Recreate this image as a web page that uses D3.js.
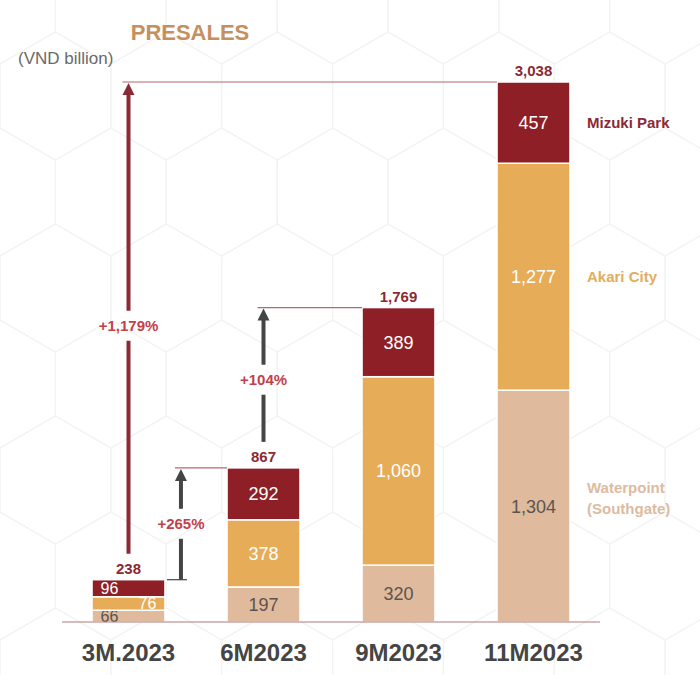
<!DOCTYPE html>
<html>
<head>
<meta charset="utf-8">
<script src="https://cdn.jsdelivr.net/npm/d3@7"></script>
<style>
  body { margin: 0; background: #fff; }
  svg { display: block; font-family: "Liberation Sans", Arial, sans-serif; }
</style>
</head>
<body>
<div id="chart"></div>
<script>
// chart data
var periods = ["3M.2023", "6M2023", "9M2023", "11M2023"];
var waterpoint = [66, 197, 320, 1304];
var akari = [76, 378, 1060, 1277];
var mizuki = [96, 292, 389, 457];
var totals = [238, 867, 1769, 3038];
var seriesNames = ["Waterpoint (Southgate)", "Akari City", "Mizuki Park"];
var growthFrom = [0, 0, 1];
var growthTo = [3, 1, 2];
var growthLabels = ["+1,179%", "+265%", "+104%"];

var W = 700, H = 675;
var colors = ["#dfba9c", "#e6ac57", "#8e1f27"];
var darkRed = "#8b2a35";

var svg = d3.select("#chart").append("svg")
    .attr("width", W)
    .attr("height", H);

// faint hexagon pattern in the background
var hexR = 64;
var hexG = svg.append("g").attr("stroke", "#f3f3f3").attr("fill", "none").attr("stroke-width", 1.2);
for (var row = -1; row < 8; row++) {
    for (var col = -1; col < 8; col++) {
        var cx = col * hexR * Math.sqrt(3) + (row % 2 ? hexR * Math.sqrt(3) / 2 : 0);
        var cy = row * hexR * 1.5;
        var pts = d3.range(6).map(function (k) {
            var a = Math.PI / 3 * k + Math.PI / 6;
            return [cx + hexR * Math.cos(a), cy + hexR * Math.sin(a)];
        });
        hexG.append("polygon").attr("points", pts.join(" "));
    }
}

// scales
var x = d3.scaleBand()
    .domain(periods)
    .range([61, 601])
    .paddingInner(0.46)
    .paddingOuter(0.23);

var y = d3.scaleLinear()
    .domain([0, 3038])
    .range([622, 82]);

// stacked layout
var rows = periods.map(function (p, i) {
    return { period: p, w: waterpoint[i], a: akari[i], m: mizuki[i] };
});
var stack = d3.stack().keys(["w", "a", "m"]);
var layers = stack(rows);

svg.append("clipPath").attr("id", "plot-clip")
    .append("rect").attr("x", 0).attr("y", 0).attr("width", W).attr("height", y(0));

var barG = svg.append("g").attr("clip-path", "url(#plot-clip)");

layers.forEach(function (layer, li) {
    barG.selectAll(".seg" + li)
        .data(layer)
        .enter().append("rect")
        .attr("x", function (d) { return x(d.data.period); })
        .attr("y", function (d) { return y(d[1]); })
        .attr("width", x.bandwidth())
        .attr("height", function (d) { return y(d[0]) - y(d[1]); })
        .attr("fill", colors[li])
        .attr("stroke", "#fff")
        .attr("stroke-width", 1.5);

    barG.selectAll(".lbl" + li)
        .data(layer)
        .enter().append("text")
        .attr("x", function (d, i) {
            var c = x(d.data.period) + x.bandwidth() / 2;
            // the small first bar has its labels pushed to the sides
            if (i == 0) c += (li == 1 ? 19 : -19);
            return c;
        })
        .attr("y", function (d) { return (y(d[0]) + y(d[1])) / 2; })
        .attr("dy", "0.36em")
        .attr("text-anchor", "middle")
        .attr("font-size", function (d, i) { return i == 0 ? 16 : 18; })
        .attr("fill", li == 0 ? "#5b5450" : "#fff")
        .text(function (d) { return d3.format(",")(d[1] - d[0]); });
});

// total labels
svg.selectAll(".total")
    .data(totals)
    .enter().append("text")
    .attr("x", function (d, i) { return x(periods[i]) + x.bandwidth() / 2; })
    .attr("y", function (d) { return y(d) - 6; })
    .attr("text-anchor", "middle")
    .attr("font-size", 15)
    .attr("font-weight", "bold")
    .attr("fill", darkRed)
    .text(function (d) { return d3.format(",")(d); });

// baseline
svg.append("line")
    .attr("x1", 62).attr("x2", 600)
    .attr("y1", y(0)).attr("y2", y(0))
    .attr("stroke", "#b07a7e")
    .attr("stroke-width", 1.2);

// category labels
svg.selectAll(".cat")
    .data(periods)
    .enter().append("text")
    .attr("x", function (d) { return x(d) + x.bandwidth() / 2; })
    .attr("y", 661)
    .attr("text-anchor", "middle")
    .attr("font-size", 24)
    .attr("font-weight", "bold")
    .attr("fill", "#454545")
    .text(function (d) { return d; });

// growth arrows
var arrowColors = [darkRed, "#454545", "#454545"];
var arrowX = [
    x(periods[0]) + x.bandwidth() / 2,
    x(periods[0]) + x.bandwidth() + 16,
    x(periods[1]) + x.bandwidth() / 2
];

growthLabels.forEach(function (lbl, i) {
    var ax = arrowX[i];
    var yTop = y(totals[growthTo[i]]);
    // arrows drawn from a bar's center start above its total label
    var yBot = (i == 1) ? y(totals[growthFrom[i]]) : y(totals[growthFrom[i]]) - 26;
    var yMid = (yTop + yBot) / 2 + (i == 0 ? 8 : (i == 2 ? 5 : 0));
    var gap = 15;
    var col = arrowColors[i];

    // horizontal guide at the top
    svg.append("line")
        .attr("x1", ax - 6).attr("x2", x(periods[growthTo[i]]))
        .attr("y1", yTop).attr("y2", yTop)
        .attr("stroke", "#b5676c")
        .attr("stroke-width", 1.2);

    if (i == 1) {
        svg.append("line")
            .attr("x1", ax - 14).attr("x2", ax + 6)
            .attr("y1", yBot).attr("y2", yBot)
            .attr("stroke", col)
            .attr("stroke-width", 1.2);
    }

    svg.append("line")
        .attr("x1", ax).attr("x2", ax)
        .attr("y1", yBot).attr("y2", yMid + gap)
        .attr("stroke", col).attr("stroke-width", 4);
    svg.append("line")
        .attr("x1", ax).attr("x2", ax)
        .attr("y1", yMid - gap).attr("y2", yTop + 10)
        .attr("stroke", col).attr("stroke-width", 4);
    svg.append("path")
        .attr("d", "M" + (ax - 6) + "," + (yTop + 13) + "L" + ax + "," + (yTop + 1) + "L" + (ax + 6) + "," + (yTop + 13) + "Z")
        .attr("fill", col);

    svg.append("text")
        .attr("x", ax)
        .attr("y", yMid)
        .attr("dy", "0.36em")
        .attr("text-anchor", "middle")
        .attr("font-size", 15)
        .attr("font-weight", "bold")
        .attr("fill", "#c2414b")
        .text(lbl);
});

// series labels on the right
var legendY = [
    (y(0) + y(waterpoint[3])) / 2,
    (y(waterpoint[3]) + y(waterpoint[3] + akari[3])) / 2,
    (y(waterpoint[3] + akari[3]) + y(totals[3])) / 2
];
var legendColors = ["#dcbba0", "#e2ad5e", darkRed];

seriesNames.forEach(function (name, i) {
    var t = svg.append("text")
        .attr("x", 587)
        .attr("font-size", 15)
        .attr("font-weight", "bold")
        .attr("fill", legendColors[i]);
    if (i == 0) {
        var parts = name.split(" ");
        t.attr("y", legendY[i] - 13);
        t.append("tspan").attr("x", 587).text(parts[0]);
        t.append("tspan").attr("x", 587).attr("dy", 21).text(parts[1]);
    } else {
        t.attr("y", legendY[i]).attr("dy", "0.36em").text(name);
    }
});

// title and unit
svg.append("text")
    .attr("x", 190)
    .attr("y", 40)
    .attr("text-anchor", "middle")
    .attr("font-size", 22)
    .attr("font-weight", "bold")
    .attr("fill", "#c68f5e")
    .text("PRESALES");

svg.append("text")
    .attr("x", 18)
    .attr("y", 64)
    .attr("font-size", 17)
    .attr("fill", "#6a6a6a")
    .text("(VND billion)");
</script>
</body>
</html>
